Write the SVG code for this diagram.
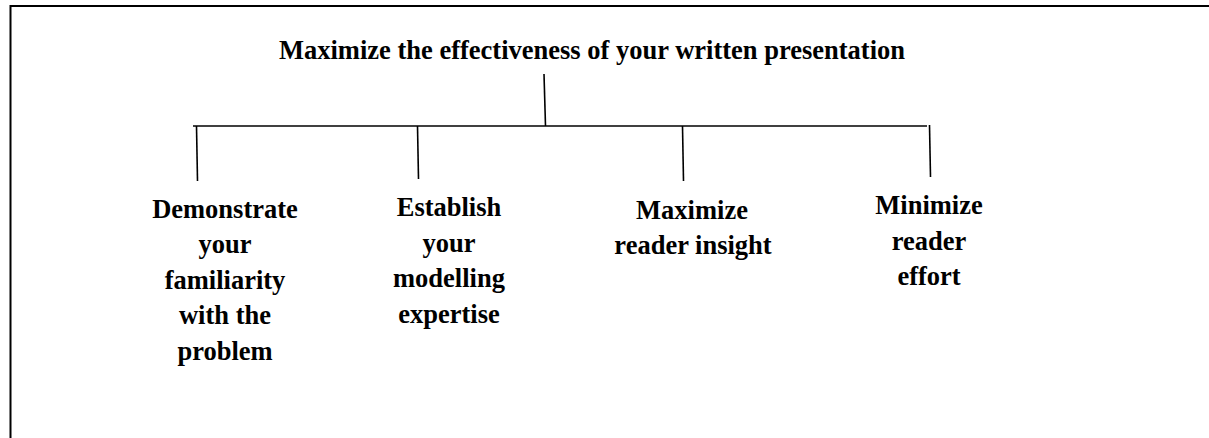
<svg xmlns="http://www.w3.org/2000/svg" width="1209" height="438" viewBox="0 0 1209 438">
<style>
.t{font-family:"Liberation Serif","Times New Roman",serif;font-weight:bold;font-size:26.5px;fill:#000;text-anchor:middle}
.c{stroke:#000;stroke-width:1.6;fill:none}
.f{stroke:#000;stroke-width:2;fill:none}
</style>
<rect width="1209" height="438" fill="#fff"/>
<path class="f" d="M10.5 438 V6 H1209"/>
<g id="root"><text class="t" x="592" y="58.5">Maximize the effectiveness of your written presentation</text></g>
<g id="connectors">
<path class="c" d="M544 74 L545.5 126"/>
<path class="c" d="M193 126 H927"/>
<path class="c" d="M196.5 126 L197.5 181"/>
<path class="c" d="M417.5 126 L418.5 179"/>
<path class="c" d="M682.5 126 L683.5 181"/>
<path class="c" d="M929.5 125 L930.5 177"/>
</g>
<g id="n1"><text class="t" x="225"><tspan x="225" y="217.5">Demonstrate</tspan><tspan x="225" y="253">your</tspan><tspan x="225" y="288.5">familiarity</tspan><tspan x="225" y="324">with the</tspan><tspan x="225" y="359.5">problem</tspan></text></g>
<g id="n2"><text class="t" x="449"><tspan x="449" y="216">Establish</tspan><tspan x="449" y="251.5">your</tspan><tspan x="449" y="287">modelling</tspan><tspan x="449" y="322.5">expertise</tspan></text></g>
<g id="n3"><text class="t" x="693"><tspan x="692" y="218.5">Maximize</tspan><tspan x="693" y="254">reader insight</tspan></text></g>
<g id="n4"><text class="t" x="929"><tspan x="929" y="214">Minimize</tspan><tspan x="929" y="249.5">reader</tspan><tspan x="929" y="285">effort</tspan></text></g>
</svg>
